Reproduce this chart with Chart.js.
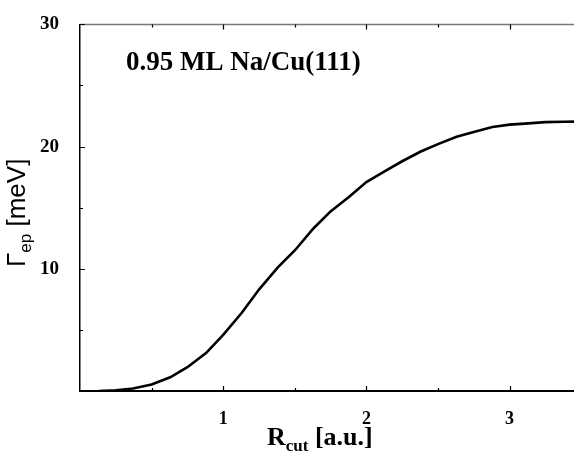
<!DOCTYPE html>
<html>
<head>
<meta charset="utf-8">
<script src="https://cdn.jsdelivr.net/npm/chart.js@4"></script>
<style>
  html, body { margin: 0; padding: 0; background: #fff; }
  #wrap { width: 574px; height: 458px; }
</style>
</head>
<body>
<div id="wrap"><canvas id="gammaChart"></canvas></div>
<script>
// R_cut values (a.u.) and electron-phonon linewidth (meV)
const rCut = [0.13, 0.25, 0.37, 0.5, 0.63, 0.75, 0.88, 1.0, 1.13, 1.25, 1.38, 1.5, 1.63, 1.75,
              1.88, 2.0, 2.13, 2.25, 2.38, 2.5, 2.63, 2.75, 2.88, 3.0, 3.13, 3.25, 3.38, 3.5];
const gammaEp = [0, 0.05, 0.2, 0.53, 1.12, 1.95, 3.1, 4.6, 6.4, 8.3, 10.1, 11.5, 13.3, 14.7,
                 15.9, 17.1, 18.0, 18.8, 19.6, 20.2, 20.8, 21.2, 21.6, 21.8, 21.9, 22.0, 22.03, 22.05];

// tick positions
const xMajor = [1, 2, 3];
const xMinor = [0.5, 1.5, 2.5];
const yMajor = [10, 20, 30];
const yMinor = [5, 15, 25];

const serif = '"Liberation Serif", "Times New Roman", serif';
const sans = '"Liberation Sans", Arial, sans-serif';

// inward tick marks, frame and the text labels with subscripts
const decorations = {
    id: 'decorations',
    afterDraw(chart) {
        const ctx = chart.ctx;
        const area = chart.chartArea;
        const xs = chart.scales.x, ys = chart.scales.y;
        ctx.save();

        // top frame line (grey)
        ctx.strokeStyle = '#777';
        ctx.lineWidth = 1.5;
        ctx.beginPath();
        ctx.moveTo(area.left, area.top);
        ctx.lineTo(area.right, area.top);
        ctx.stroke();

        ctx.strokeStyle = '#000';
        ctx.lineWidth = 1.2;
        ctx.beginPath();
        xMajor.concat(xMinor).forEach(v => {
            const len = xMajor.includes(v) ? 5 : 3;
            const px = Math.round(xs.getPixelForValue(v)) + 0.5;
            ctx.moveTo(px, area.bottom);
            ctx.lineTo(px, area.bottom - len);
            ctx.moveTo(px, area.top);
            ctx.lineTo(px, area.top + len);
        });
        yMajor.concat(yMinor).forEach(v => {
            const len = yMajor.includes(v) ? 5 : 3;
            const py = Math.round(ys.getPixelForValue(v)) + 0.5;
            ctx.moveTo(area.left, py);
            ctx.lineTo(area.left + len, py);
        });
        ctx.stroke();

        // annotation
        ctx.fillStyle = '#000';
        ctx.textBaseline = 'alphabetic';
        ctx.textAlign = 'left';
        ctx.font = 'bold 27px ' + serif;
        ctx.fillText('0.95 ML Na/Cu(111)', 126, 70);

        // x axis title: R_cut [a.u.]
        let x = 267;
        const by = 445;
        ctx.font = 'bold 26px ' + serif;
        ctx.fillText('R', x, by);
        x += ctx.measureText('R').width;
        ctx.font = 'bold 17px ' + serif;
        ctx.fillText('cut', x, by + 6);
        x += ctx.measureText('cut').width;
        ctx.font = 'bold 26px ' + serif;
        ctx.fillText(' [a.u.]', x, by);

        // y axis title: Γ_ep [meV]
        ctx.translate(25, 267);
        ctx.rotate(-Math.PI / 2);
        let t = 0;
        ctx.font = '26px ' + sans;
        ctx.fillText('\u0393', t, 0);
        t += ctx.measureText('\u0393').width;
        ctx.font = '17px ' + sans;
        ctx.fillText('ep', t, 6);
        t += ctx.measureText('ep').width;
        ctx.font = '26px ' + sans;
        ctx.fillText(' [meV]', t, 0);

        ctx.restore();
    }
};

const ctxGamma = document.getElementById('gammaChart').getContext('2d');
const gammaChart = new Chart(ctxGamma, {
    type: 'line',
    data: {
        datasets: [{
            data: rCut.map((r, i) => ({ x: r, y: gammaEp[i] })),
            borderColor: '#000',
            borderWidth: 2.6,
            pointRadius: 0,
            tension: 0,
            fill: false
        }]
    },
    options: {
        responsive: true,
        maintainAspectRatio: false,
        animation: false,
        layout: { padding: { top: 10, right: 0, left: 0, bottom: 0 } },
        scales: {
            x: {
                type: 'linear',
                min: 0,
                max: 3.45,
                grid: { display: false },
                border: { display: true, color: '#000', width: 2 },
                afterBuildTicks: s => { s.ticks = xMajor.map(v => ({ value: v })); },
                afterFit: s => { s.height = 67; },
                ticks: {
                    padding: 10,
                    color: '#000',
                    font: { family: serif, size: 18, weight: 'bold' }
                }
            },
            y: {
                min: 0,
                max: 30,
                grid: { display: false },
                border: { display: true, color: '#000', width: 1.5 },
                afterBuildTicks: s => { s.ticks = yMajor.map(v => ({ value: v })); },
                afterFit: s => { s.width = 80; },
                ticks: {
                    padding: 13,
                    color: '#000',
                    font: { family: serif, size: 19, weight: 'bold' }
                }
            }
        },
        plugins: {
            legend: { display: false },
            tooltip: { enabled: false }
        }
    },
    plugins: [decorations]
});
</script>
</body>
</html>
